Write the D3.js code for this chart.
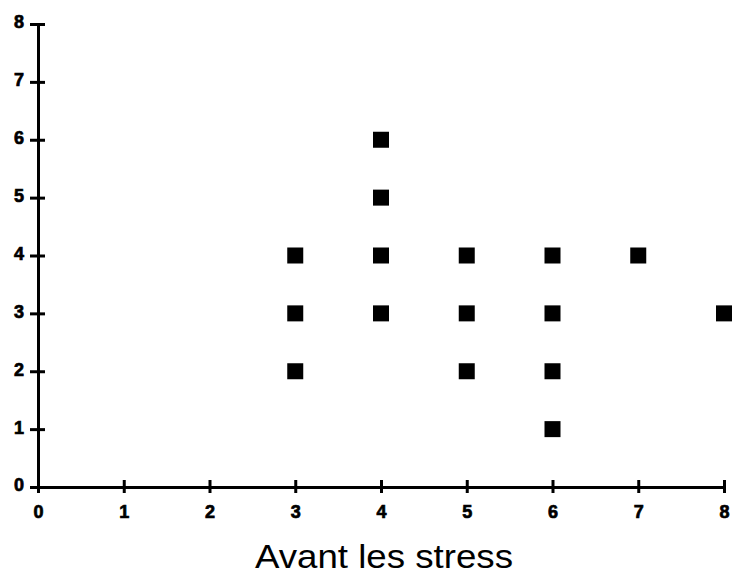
<!DOCTYPE html>
<html>
<head>
<meta charset="utf-8">
<script src="https://cdn.jsdelivr.net/npm/d3@7"></script>
<style>
  body { margin: 0; background: #fff; }
  svg { display: block; }
  .tick text { font-family: "Liberation Sans", Arial, sans-serif; font-weight: bold; font-size: 18px; fill: #000; stroke: #000; stroke-width: 0.7px; }
</style>
</head>
<body>
<div id="chart"></div>
<script>
// points
var avantValues = [3, 3, 3, 4, 4, 4, 4, 5, 5, 5, 6, 6, 6, 6, 7, 8];
var apresValues = [2, 3, 4, 3, 4, 5, 6, 2, 3, 4, 1, 2, 3, 4, 4, 3];
var xTicks = [0, 1, 2, 3, 4, 5, 6, 7, 8];
var yTicks = [0, 1, 2, 3, 4, 5, 6, 7, 8];
var xTitle = "Avant les stress";

var width = 734, height = 574;

var svg = d3.select("#chart").append("svg")
    .attr("width", width)
    .attr("height", height);

var x = d3.scaleLinear().domain([0, 8]).range([38, 724]);
var y = d3.scaleLinear().domain([0, 8]).range([487, 24]);

var points = avantValues.map(function(d, i) { return {x: d, y: apresValues[i]}; });

// x axis
var xAxis = svg.append("g")
    .attr("transform", "translate(0," + y(0) + ")")
    .call(d3.axisBottom(x).tickValues(xTicks).tickFormat(d3.format("d")).tickSize(0).tickPadding(18));
xAxis.select(".domain").attr("stroke", "#000").attr("stroke-width", 3);
xAxis.selectAll(".tick").append("line")
    .attr("y1", -7).attr("y2", 6)
    .attr("stroke", "#000").attr("stroke-width", 3);

// y axis
var yAxis = svg.append("g")
    .attr("transform", "translate(" + x(0) + ",0)")
    .call(d3.axisLeft(y).tickValues(yTicks).tickFormat(d3.format("d")).tickSize(0).tickPadding(14));
yAxis.select(".domain").attr("stroke", "#000").attr("stroke-width", 3);
yAxis.selectAll(".tick").append("line")
    .attr("x1", -8).attr("x2", 7)
    .attr("stroke", "#000").attr("stroke-width", 3);
yAxis.selectAll("text").attr("dy", "0.22em");

// squares
var s = 16;
svg.selectAll("rect.pt")
    .data(points)
    .enter().append("rect")
    .attr("class", "pt")
    .attr("x", function(d) { return x(d.x) - s / 2; })
    .attr("y", function(d) { return y(d.y) - s / 2; })
    .attr("width", s)
    .attr("height", s)
    .attr("fill", "#000");

svg.append("text")
    .attr("x", 384)
    .attr("y", 568)
    .attr("text-anchor", "middle")
    .attr("font-family", "Liberation Sans, Arial, sans-serif")
    .attr("font-size", 33)
    .attr("textLength", 258)
    .attr("lengthAdjust", "spacingAndGlyphs")
    .attr("fill", "#000")
    .text(xTitle);
</script>
</body>
</html>
